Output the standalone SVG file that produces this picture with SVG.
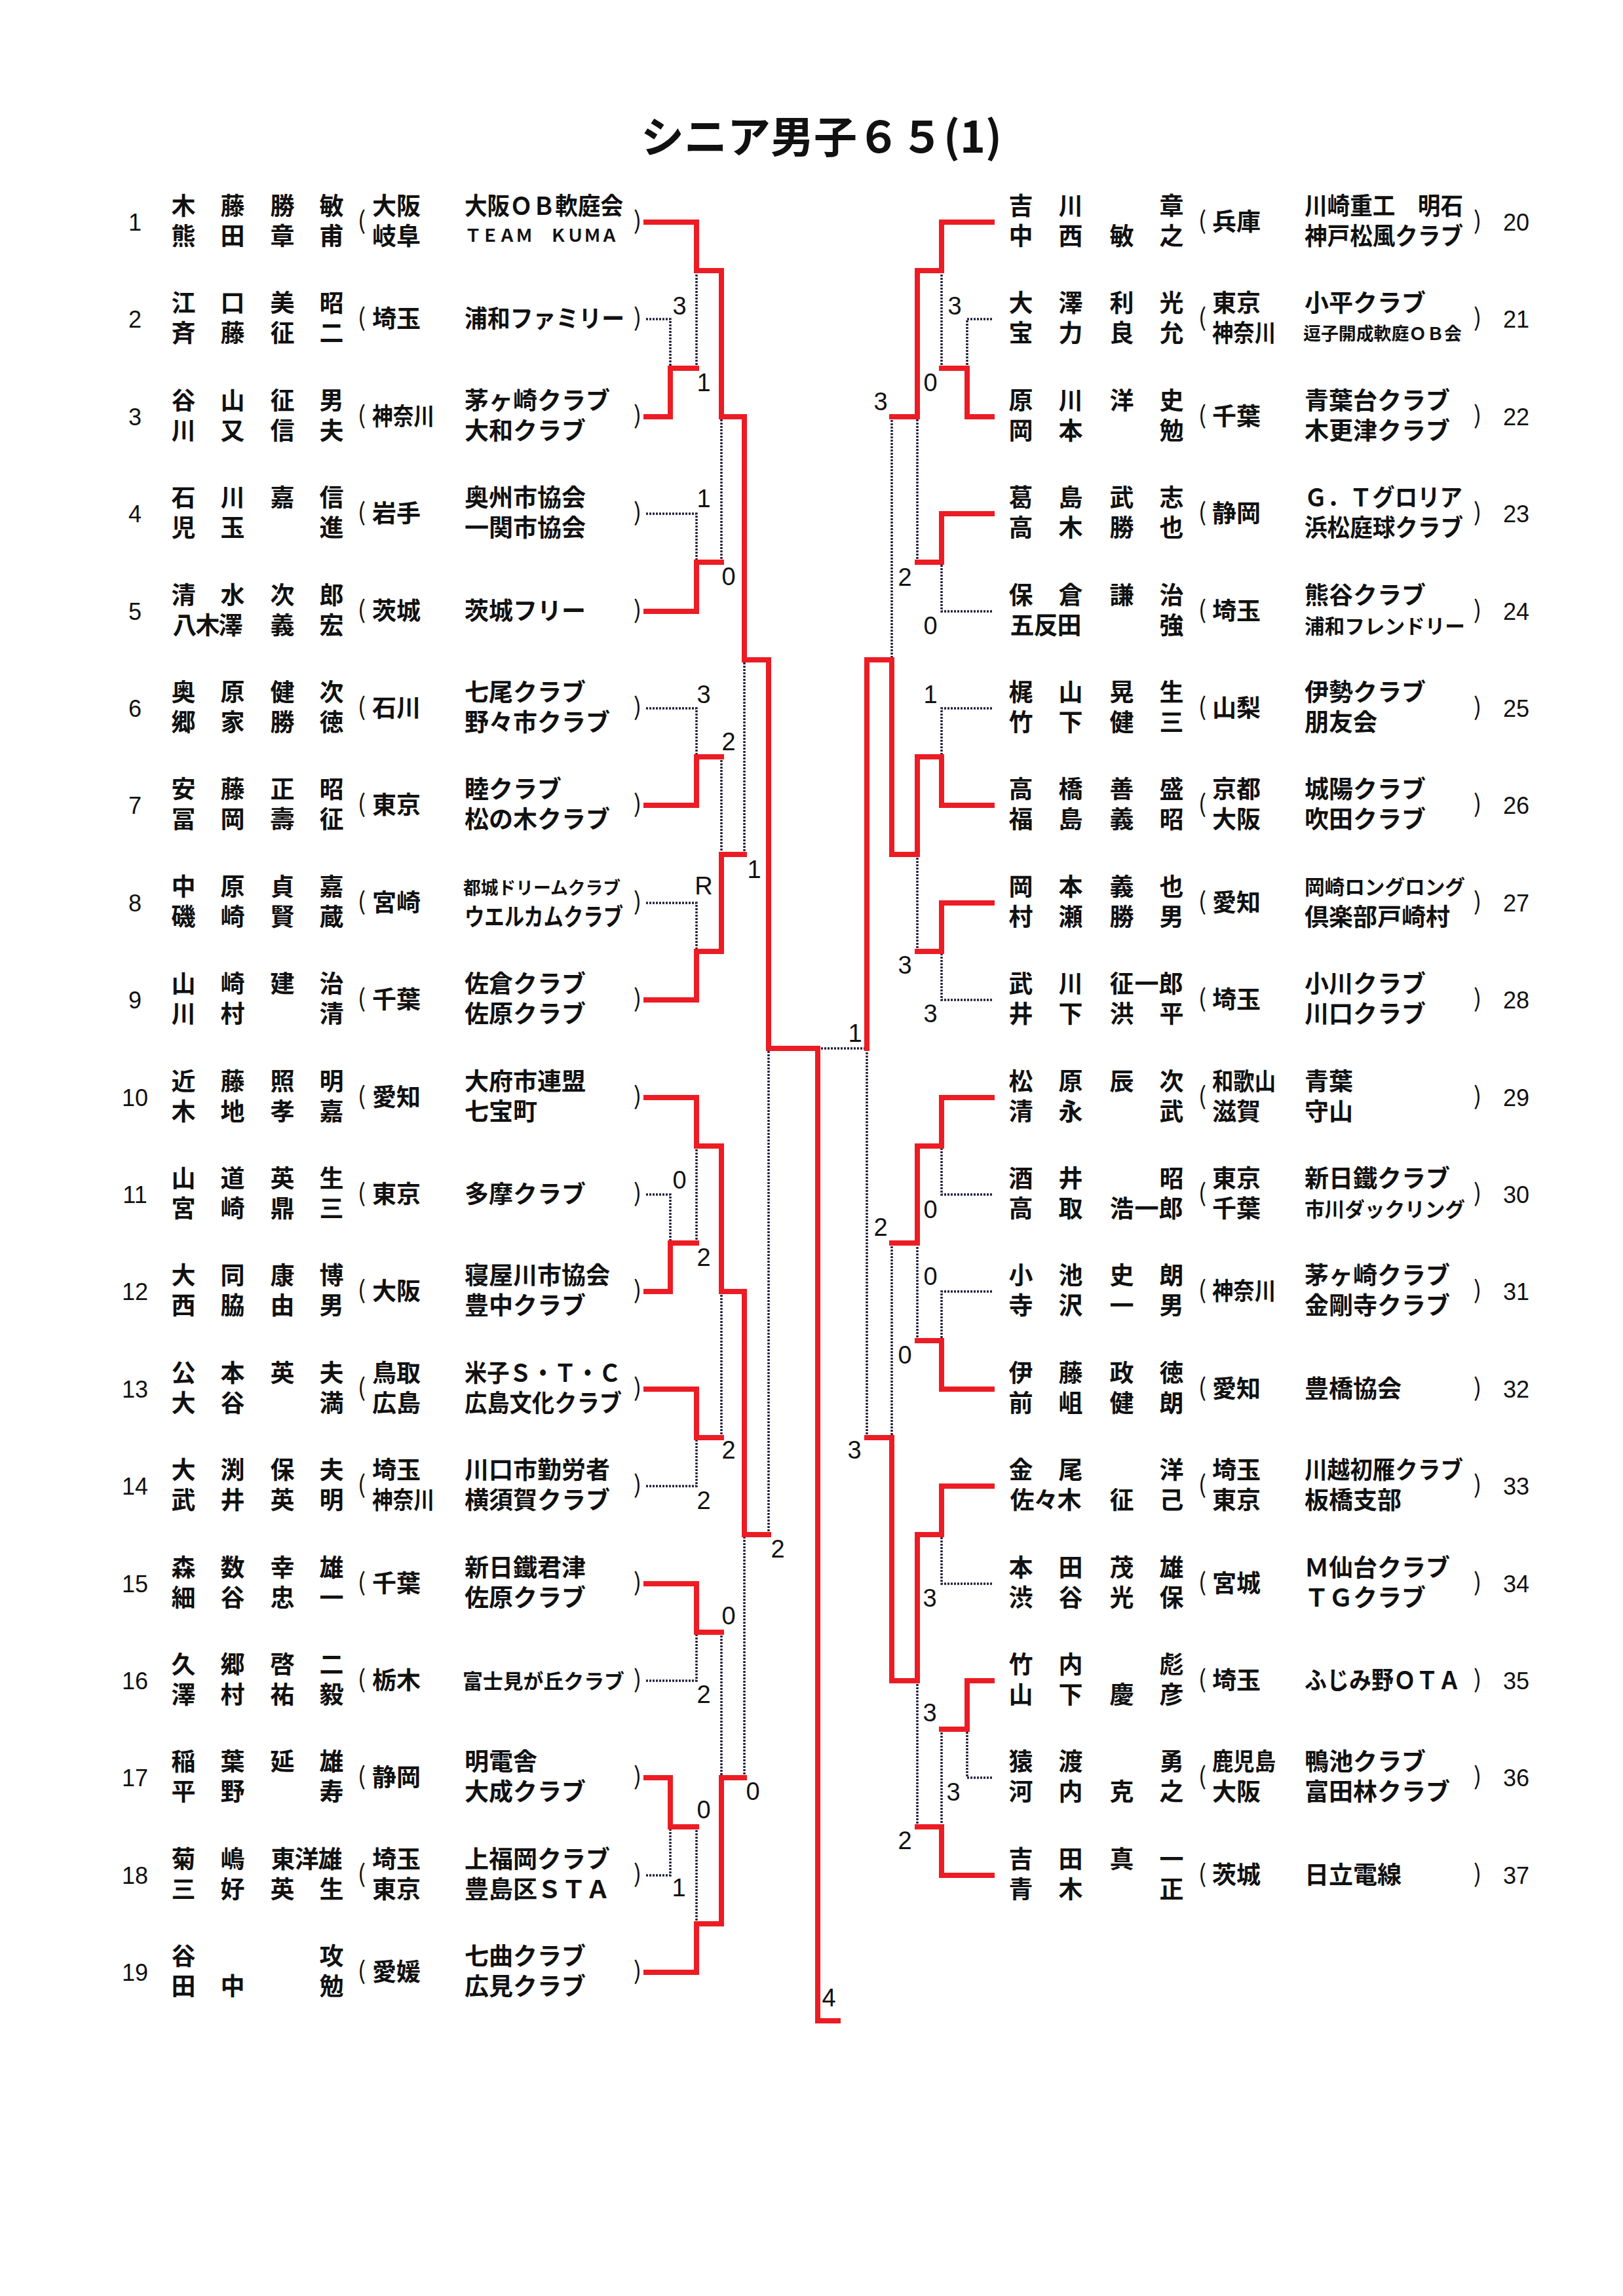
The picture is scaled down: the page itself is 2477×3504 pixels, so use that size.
<svg xmlns="http://www.w3.org/2000/svg" width="2477" height="3504" viewBox="0 0 2477 3504">
<style>
.t{font-family:"Noto Sans CJK JP","Noto Sans",sans-serif;fill:#111;font-size:37px;font-weight:700}
.nm{text-anchor:middle}
.pa{text-anchor:middle;font-weight:400}
.sm{font-size:26px}
.s27{font-size:27px}
.s31{font-size:31px}
.no{font-family:"Liberation Sans Narrow","Liberation Sans",sans-serif;font-size:36px;text-anchor:middle;fill:#111;font-weight:normal}
.sc{font-family:"Liberation Sans Narrow","Liberation Sans",sans-serif;font-size:38px;text-anchor:middle;fill:#111}
.red{fill:none;stroke:#ec1c24;stroke-width:8;stroke-linejoin:miter;stroke-linecap:square}
.dot{fill:none;stroke:#1e1e3a;stroke-width:3.5;stroke-dasharray:3 2}
</style>
<rect width="2477" height="3504" fill="#fff"/>
<text id="title" class="t" x="978" y="233" style="font-size:66px">シニア男子６５(1)</text>

<g id="connectors">
<g class="dot">
<path d="M986,487H1023V562"/>
<path d="M1063,562V413"/>
<path d="M986,784H1063V858"/>
<path d="M1101,858V636"/>
<path d="M986,1081H1063V1155"/>
<path d="M1101,1155V1304"/>
<path d="M986,1378H1063V1452"/>
<path d="M1136,1304V1007"/>
<path d="M986,1823H1023V1897"/>
<path d="M1063,1897V1749"/>
<path d="M1101,2194V1971"/>
<path d="M986,2268H1063V2194"/>
<path d="M986,2565H1063V2491"/>
<path d="M1101,2491V2713"/>
<path d="M986,2862H1023V2788"/>
<path d="M1063,2788V2936"/>
<path d="M1136,2713V2342"/>
<path d="M1173,2342V1600"/>
<path d="M1248,1600H1323"/>
<path d="M1514,487H1476V562"/>
<path d="M1437,562V413"/>
<path d="M1514,933H1437V858"/>
<path d="M1400,858V636"/>
<path d="M1361,636V1007"/>
<path d="M1514,1081H1437V1155"/>
<path d="M1514,1526H1437V1452"/>
<path d="M1400,1452V1304"/>
<path d="M1514,1823H1437V1749"/>
<path d="M1514,1971H1437V2046"/>
<path d="M1400,2046V1897"/>
<path d="M1361,1897V2194"/>
<path d="M1514,2417H1437V2342"/>
<path d="M1514,2713H1476V2639"/>
<path d="M1437,2639V2788"/>
<path d="M1400,2788V2565"/>
<path d="M1323,2194V1600"/>
</g>
<g class="red">
<path d="M986,339H1063V413H1101V636H1136V1007H1173V1600H1248V3084H1279"/>
<path d="M986,636H1023V562H1063"/>
<path d="M986,933H1063V858H1101"/>
<path d="M986,1229H1063V1155H1101"/>
<path d="M986,1526H1063V1452H1101V1304H1136"/>
<path d="M986,1675H1063V1749H1101V1971H1136V2342H1173"/>
<path d="M986,1971H1023V1897H1063"/>
<path d="M986,2120H1063V2194H1101"/>
<path d="M986,2417H1063V2491H1101"/>
<path d="M986,2713H1023V2788H1063"/>
<path d="M986,3010H1063V2936H1101V2713H1136"/>
<path d="M1514,339H1437V413H1400V636H1361"/>
<path d="M1514,636H1476V562H1437"/>
<path d="M1514,784H1437V858H1400"/>
<path d="M1514,1229H1437V1155H1400V1304H1361V1007H1323V1600"/>
<path d="M1514,1378H1437V1452H1400"/>
<path d="M1514,1675H1437V1749H1400V1897H1361"/>
<path d="M1514,2120H1437V2046H1400"/>
<path d="M1514,2268H1437V2342H1400V2565H1361V2194H1323"/>
<path d="M1514,2565H1476V2639H1437"/>
<path d="M1514,2862H1437V2788H1400"/>
</g>
</g>

<g id="scores" class="sc">
<text x="1037" y="480">3</text>
<text x="1074" y="597">1</text>
<text x="1074" y="774">1</text>
<text x="1112" y="893">0</text>
<text x="1074" y="1073">3</text>
<text x="1112" y="1145">2</text>
<text x="1151" y="1340">1</text>
<text x="1074" y="1365">R</text>
<text x="1037" y="1814">0</text>
<text x="1074" y="1932">2</text>
<text x="1112" y="2226">2</text>
<text x="1074" y="2303">2</text>
<text x="1187" y="2377">2</text>
<text x="1112" y="2479">0</text>
<text x="1074" y="2599">2</text>
<text x="1149" y="2747">0</text>
<text x="1074" y="2775">0</text>
<text x="1036" y="2894">1</text>
<text x="1265" y="3062">4</text>
<text x="1305" y="1590">1</text>
<text x="1457" y="480">3</text>
<text x="1420" y="597">0</text>
<text x="1344" y="626">3</text>
<text x="1381" y="894">2</text>
<text x="1420" y="968">0</text>
<text x="1420" y="1073">1</text>
<text x="1381" y="1486">3</text>
<text x="1420" y="1560">3</text>
<text x="1344" y="1886">2</text>
<text x="1420" y="1859">0</text>
<text x="1420" y="1961">0</text>
<text x="1381" y="2081">0</text>
<text x="1304" y="2226">3</text>
<text x="1419" y="2452">3</text>
<text x="1419" y="2627">3</text>
<text x="1455" y="2748">3</text>
<text x="1381" y="2822">2</text>
</g>

<g id="left" class="t">
<g id="e1" transform="translate(0,339)">
<text class="no" x="206" y="13">1</text>
<text class="nm"><tspan x="280 355 431 506" y="-11">木藤勝敏</tspan><tspan x="280 355 431 506" y="35">熊田章甫</tspan></text>
<text class="pa" x="552" y="11">(</text>
<text><tspan x="568" y="-11">大阪</tspan><tspan x="568" y="35">岐阜</tspan></text>
<text><tspan x="709" y="-11" textLength="242" lengthAdjust="spacingAndGlyphs">大阪ＯＢ軟庭会</tspan><tspan class="sm" x="709" y="30">ＴＥＡＭ　ＫＵＭＡ</tspan></text>
<text class="pa" x="973" y="11">)</text>
</g>
<g id="e2" transform="translate(0,487.4)">
<text class="no" x="206" y="13">2</text>
<text class="nm"><tspan x="280 355 431 506" y="-11">江口美昭</tspan><tspan x="280 355 431 506" y="35">斉藤征二</tspan></text>
<text class="pa" x="552" y="11">(</text>
<text x="568" y="13">埼玉</text>
<text x="709" y="13" textLength="244" lengthAdjust="spacingAndGlyphs">浦和ファミリー</text>
<text class="pa" x="973" y="11">)</text>
</g>
<g id="e3" transform="translate(0,635.8)">
<text class="no" x="206" y="13">3</text>
<text class="nm"><tspan x="280 355 431 506" y="-11">谷山征男</tspan><tspan x="280 355 431 506" y="35">川又信夫</tspan></text>
<text class="pa" x="552" y="11">(</text>
<text x="568" y="13" textLength="95" lengthAdjust="spacingAndGlyphs">神奈川</text>
<text><tspan x="709" y="-11">茅ヶ崎クラブ</tspan><tspan x="709" y="35">大和クラブ</tspan></text>
<text class="pa" x="973" y="11">)</text>
</g>
<g id="e4" transform="translate(0,784.2)">
<text class="no" x="206" y="13">4</text>
<text class="nm"><tspan x="280 355 431 506" y="-11">石川嘉信</tspan><tspan x="280 355 506" y="35">児玉進</tspan></text>
<text class="pa" x="552" y="11">(</text>
<text x="568" y="13">岩手</text>
<text><tspan x="709" y="-11">奥州市協会</tspan><tspan x="709" y="35">一関市協会</tspan></text>
<text class="pa" x="973" y="11">)</text>
</g>
<g id="e5" transform="translate(0,932.6)">
<text class="no" x="206" y="13">5</text>
<text class="nm"><tspan x="280 355 431 506" y="-11">清水次郎</tspan><tspan x="282 317 352 431 506" y="35">八木澤義宏</tspan></text>
<text class="pa" x="552" y="11">(</text>
<text x="568" y="13">茨城</text>
<text x="709" y="13">茨城フリー</text>
<text class="pa" x="973" y="11">)</text>
</g>
<g id="e6" transform="translate(0,1081)">
<text class="no" x="206" y="13">6</text>
<text class="nm"><tspan x="280 355 431 506" y="-11">奥原健次</tspan><tspan x="280 355 431 506" y="35">郷家勝徳</tspan></text>
<text class="pa" x="552" y="11">(</text>
<text x="568" y="13">石川</text>
<text><tspan x="709" y="-11">七尾クラブ</tspan><tspan x="709" y="35">野々市クラブ</tspan></text>
<text class="pa" x="973" y="11">)</text>
</g>
<g id="e7" transform="translate(0,1229.4)">
<text class="no" x="206" y="13">7</text>
<text class="nm"><tspan x="280 355 431 506" y="-11">安藤正昭</tspan><tspan x="280 355 431 506" y="35">冨岡壽征</tspan></text>
<text class="pa" x="552" y="11">(</text>
<text x="568" y="13">東京</text>
<text><tspan x="709" y="-11">睦クラブ</tspan><tspan x="709" y="35">松の木クラブ</tspan></text>
<text class="pa" x="973" y="11">)</text>
</g>
<g id="e8" transform="translate(0,1377.8)">
<text class="no" x="206" y="13">8</text>
<text class="nm"><tspan x="280 355 431 506" y="-11">中原貞嘉</tspan><tspan x="280 355 431 506" y="35">磯崎賢蔵</tspan></text>
<text class="pa" x="552" y="11">(</text>
<text x="568" y="13">宮崎</text>
<text><tspan class="s27" x="707" y="-13" textLength="240" lengthAdjust="spacingAndGlyphs">都城ドリームクラブ</tspan><tspan x="709" y="35" textLength="242" lengthAdjust="spacingAndGlyphs">ウエルカムクラブ</tspan></text>
<text class="pa" x="973" y="11">)</text>
</g>
<g id="e9" transform="translate(0,1526.2)">
<text class="no" x="206" y="13">9</text>
<text class="nm"><tspan x="280 355 431 506" y="-11">山崎建治</tspan><tspan x="280 355 506" y="35">川村清</tspan></text>
<text class="pa" x="552" y="11">(</text>
<text x="568" y="13">千葉</text>
<text><tspan x="709" y="-11">佐倉クラブ</tspan><tspan x="709" y="35">佐原クラブ</tspan></text>
<text class="pa" x="973" y="11">)</text>
</g>
<g id="e10" transform="translate(0,1674.6)">
<text class="no" x="206" y="13">10</text>
<text class="nm"><tspan x="280 355 431 506" y="-11">近藤照明</tspan><tspan x="280 355 431 506" y="35">木地孝嘉</tspan></text>
<text class="pa" x="552" y="11">(</text>
<text x="568" y="13">愛知</text>
<text><tspan x="709" y="-11">大府市連盟</tspan><tspan x="709" y="35">七宝町</tspan></text>
<text class="pa" x="973" y="11">)</text>
</g>
<g id="e11" transform="translate(0,1823)">
<text class="no" x="206" y="13">11</text>
<text class="nm"><tspan x="280 355 431 506" y="-11">山道英生</tspan><tspan x="280 355 431 506" y="35">宮崎鼎三</tspan></text>
<text class="pa" x="552" y="11">(</text>
<text x="568" y="13">東京</text>
<text x="709" y="13">多摩クラブ</text>
<text class="pa" x="973" y="11">)</text>
</g>
<g id="e12" transform="translate(0,1971.4)">
<text class="no" x="206" y="13">12</text>
<text class="nm"><tspan x="280 355 431 506" y="-11">大同康博</tspan><tspan x="280 355 431 506" y="35">西脇由男</tspan></text>
<text class="pa" x="552" y="11">(</text>
<text x="568" y="13">大阪</text>
<text><tspan x="709" y="-11">寝屋川市協会</tspan><tspan x="709" y="35">豊中クラブ</tspan></text>
<text class="pa" x="973" y="11">)</text>
</g>
<g id="e13" transform="translate(0,2119.8)">
<text class="no" x="206" y="13">13</text>
<text class="nm"><tspan x="280 355 431 506" y="-11">公本英夫</tspan><tspan x="280 355 506" y="35">大谷満</tspan></text>
<text class="pa" x="552" y="11">(</text>
<text><tspan x="568" y="-11">鳥取</tspan><tspan x="568" y="35">広島</tspan></text>
<text><tspan x="709" y="-11" textLength="239" lengthAdjust="spacingAndGlyphs">米子Ｓ・Ｔ・Ｃ</tspan><tspan x="709" y="35" textLength="240" lengthAdjust="spacingAndGlyphs">広島文化クラブ</tspan></text>
<text class="pa" x="973" y="11">)</text>
</g>
<g id="e14" transform="translate(0,2268.2)">
<text class="no" x="206" y="13">14</text>
<text class="nm"><tspan x="280 355 431 506" y="-11">大渕保夫</tspan><tspan x="280 355 431 506" y="35">武井英明</tspan></text>
<text class="pa" x="552" y="11">(</text>
<text><tspan x="568" y="-11">埼玉</tspan><tspan x="568" y="35" textLength="95" lengthAdjust="spacingAndGlyphs">神奈川</tspan></text>
<text><tspan x="709" y="-11">川口市勤労者</tspan><tspan x="709" y="35">横須賀クラブ</tspan></text>
<text class="pa" x="973" y="11">)</text>
</g>
<g id="e15" transform="translate(0,2416.6)">
<text class="no" x="206" y="13">15</text>
<text class="nm"><tspan x="280 355 431 506" y="-11">森数幸雄</tspan><tspan x="280 355 431 506" y="35">細谷忠一</tspan></text>
<text class="pa" x="552" y="11">(</text>
<text x="568" y="13">千葉</text>
<text><tspan x="709" y="-11">新日鐵君津</tspan><tspan x="709" y="35">佐原クラブ</tspan></text>
<text class="pa" x="973" y="11">)</text>
</g>
<g id="e16" transform="translate(0,2565)">
<text class="no" x="206" y="13">16</text>
<text class="nm"><tspan x="280 355 431 506" y="-11">久郷啓二</tspan><tspan x="280 355 431 506" y="35">澤村祐毅</tspan></text>
<text class="pa" x="552" y="11">(</text>
<text x="568" y="13">栃木</text>
<text class="s31" x="706" y="12" textLength="247" lengthAdjust="spacingAndGlyphs">富士見が丘クラブ</text>
<text class="pa" x="973" y="11">)</text>
</g>
<g id="e17" transform="translate(0,2713.4)">
<text class="no" x="206" y="13">17</text>
<text class="nm"><tspan x="280 355 431 506" y="-11">稲葉延雄</tspan><tspan x="280 355 506" y="35">平野寿</tspan></text>
<text class="pa" x="552" y="11">(</text>
<text x="568" y="13">静岡</text>
<text><tspan x="709" y="-11">明電舎</tspan><tspan x="709" y="35">大成クラブ</tspan></text>
<text class="pa" x="973" y="11">)</text>
</g>
<g id="e18" transform="translate(0,2861.8)">
<text class="no" x="206" y="13">18</text>
<text class="nm"><tspan x="280 355 432 468 504" y="-11">菊嶋東洋雄</tspan><tspan x="280 355 431 506" y="35">三好英生</tspan></text>
<text class="pa" x="552" y="11">(</text>
<text><tspan x="568" y="-11">埼玉</tspan><tspan x="568" y="35">東京</tspan></text>
<text><tspan x="709" y="-11">上福岡クラブ</tspan><tspan x="709" y="35">豊島区ＳＴＡ</tspan></text>
<text class="pa" x="973" y="11">)</text>
</g>
<g id="e19" transform="translate(0,3010.2)">
<text class="no" x="206" y="13">19</text>
<text class="nm"><tspan x="280 506" y="-11">谷攻</tspan><tspan x="280 355 506" y="35">田中勉</tspan></text>
<text class="pa" x="552" y="11">(</text>
<text x="568" y="13">愛媛</text>
<text><tspan x="709" y="-11">七曲クラブ</tspan><tspan x="709" y="35">広見クラブ</tspan></text>
<text class="pa" x="973" y="11">)</text>
</g>
</g>

<g id="right" class="t">
<g id="e20" transform="translate(0,339)">
<text class="nm"><tspan x="1558 1634 1788" y="-11">吉川章</tspan><tspan x="1558 1634 1712 1788" y="35">中西敏之</tspan></text>
<text class="pa" x="1835" y="11">(</text>
<text x="1850" y="13">兵庫</text>
<text><tspan x="1991" y="-11" textLength="242" lengthAdjust="spacingAndGlyphs">川崎重工　明石</tspan><tspan x="1991" y="35" textLength="242" lengthAdjust="spacingAndGlyphs">神戸松風クラブ</tspan></text>
<text class="pa" x="2255" y="11">)</text>
<text class="no" x="2314" y="13">20</text>
</g>
<g id="e21" transform="translate(0,487.4)">
<text class="nm"><tspan x="1558 1634 1712 1788" y="-11">大澤利光</tspan><tspan x="1558 1634 1712 1788" y="35">宝力良允</tspan></text>
<text class="pa" x="1835" y="11">(</text>
<text><tspan x="1850" y="-11">東京</tspan><tspan x="1850" y="35" textLength="97" lengthAdjust="spacingAndGlyphs">神奈川</tspan></text>
<text><tspan x="1991" y="-11">小平クラブ</tspan><tspan class="s27" x="1989" y="32" textLength="242" lengthAdjust="spacingAndGlyphs">逗子開成軟庭ＯＢ会</tspan></text>
<text class="pa" x="2255" y="11">)</text>
<text class="no" x="2314" y="13">21</text>
</g>
<g id="e22" transform="translate(0,635.8)">
<text class="nm"><tspan x="1558 1634 1712 1788" y="-11">原川洋史</tspan><tspan x="1558 1634 1788" y="35">岡本勉</tspan></text>
<text class="pa" x="1835" y="11">(</text>
<text x="1850" y="13">千葉</text>
<text><tspan x="1991" y="-11">青葉台クラブ</tspan><tspan x="1991" y="35">木更津クラブ</tspan></text>
<text class="pa" x="2255" y="11">)</text>
<text class="no" x="2314" y="13">22</text>
</g>
<g id="e23" transform="translate(0,784.2)">
<text class="nm"><tspan x="1558 1634 1712 1788" y="-11">葛島武志</tspan><tspan x="1558 1634 1712 1788" y="35">高木勝也</tspan></text>
<text class="pa" x="1835" y="11">(</text>
<text x="1850" y="13">静岡</text>
<text><tspan x="1991" y="-11" textLength="241" lengthAdjust="spacingAndGlyphs">Ｇ．Ｔグロリア</tspan><tspan x="1991" y="35" textLength="242" lengthAdjust="spacingAndGlyphs">浜松庭球クラブ</tspan></text>
<text class="pa" x="2255" y="11">)</text>
<text class="no" x="2314" y="13">23</text>
</g>
<g id="e24" transform="translate(0,932.6)">
<text class="nm"><tspan x="1558 1634 1712 1788" y="-11">保倉謙治</tspan><tspan x="1560 1596 1632 1788" y="35">五反田強</tspan></text>
<text class="pa" x="1835" y="11">(</text>
<text x="1850" y="13">埼玉</text>
<text><tspan x="1991" y="-11">熊谷クラブ</tspan><tspan class="s31" x="1991" y="34" textLength="245" lengthAdjust="spacingAndGlyphs">浦和フレンドリー</tspan></text>
<text class="pa" x="2255" y="11">)</text>
<text class="no" x="2314" y="13">24</text>
</g>
<g id="e25" transform="translate(0,1081)">
<text class="nm"><tspan x="1558 1634 1712 1788" y="-11">梶山晃生</tspan><tspan x="1558 1634 1712 1788" y="35">竹下健三</tspan></text>
<text class="pa" x="1835" y="11">(</text>
<text x="1850" y="13">山梨</text>
<text><tspan x="1991" y="-11">伊勢クラブ</tspan><tspan x="1991" y="35">朋友会</tspan></text>
<text class="pa" x="2255" y="11">)</text>
<text class="no" x="2314" y="13">25</text>
</g>
<g id="e26" transform="translate(0,1229.4)">
<text class="nm"><tspan x="1558 1634 1712 1788" y="-11">高橋善盛</tspan><tspan x="1558 1634 1712 1788" y="35">福島義昭</tspan></text>
<text class="pa" x="1835" y="11">(</text>
<text><tspan x="1850" y="-11">京都</tspan><tspan x="1850" y="35">大阪</tspan></text>
<text><tspan x="1991" y="-11">城陽クラブ</tspan><tspan x="1991" y="35">吹田クラブ</tspan></text>
<text class="pa" x="2255" y="11">)</text>
<text class="no" x="2314" y="13">26</text>
</g>
<g id="e27" transform="translate(0,1377.8)">
<text class="nm"><tspan x="1558 1634 1712 1788" y="-11">岡本義也</tspan><tspan x="1558 1634 1712 1788" y="35">村瀬勝男</tspan></text>
<text class="pa" x="1835" y="11">(</text>
<text x="1850" y="13">愛知</text>
<text><tspan class="s31" x="1991" y="-13" textLength="245" lengthAdjust="spacingAndGlyphs">岡崎ロングロング</tspan><tspan x="1991" y="35">倶楽部戸崎村</tspan></text>
<text class="pa" x="2255" y="11">)</text>
<text class="no" x="2314" y="13">27</text>
</g>
<g id="e28" transform="translate(0,1526.2)">
<text class="nm"><tspan x="1558 1634 1712 1750 1787" y="-11">武川征一郎</tspan><tspan x="1558 1634 1712 1788" y="35">井下洪平</tspan></text>
<text class="pa" x="1835" y="11">(</text>
<text x="1850" y="13">埼玉</text>
<text><tspan x="1991" y="-11">小川クラブ</tspan><tspan x="1991" y="35">川口クラブ</tspan></text>
<text class="pa" x="2255" y="11">)</text>
<text class="no" x="2314" y="13">28</text>
</g>
<g id="e29" transform="translate(0,1674.6)">
<text class="nm"><tspan x="1558 1634 1712 1788" y="-11">松原辰次</tspan><tspan x="1558 1634 1788" y="35">清永武</tspan></text>
<text class="pa" x="1835" y="11">(</text>
<text><tspan x="1850" y="-11" textLength="97" lengthAdjust="spacingAndGlyphs">和歌山</tspan><tspan x="1850" y="35">滋賀</tspan></text>
<text><tspan x="1991" y="-11">青葉</tspan><tspan x="1991" y="35">守山</tspan></text>
<text class="pa" x="2255" y="11">)</text>
<text class="no" x="2314" y="13">29</text>
</g>
<g id="e30" transform="translate(0,1823)">
<text class="nm"><tspan x="1558 1634 1788" y="-11">酒井昭</tspan><tspan x="1558 1634 1712 1750 1787" y="35">高取浩一郎</tspan></text>
<text class="pa" x="1835" y="11">(</text>
<text><tspan x="1850" y="-11">東京</tspan><tspan x="1850" y="35">千葉</tspan></text>
<text><tspan x="1991" y="-11">新日鐵クラブ</tspan><tspan class="s31" x="1991" y="34" textLength="245" lengthAdjust="spacingAndGlyphs">市川ダックリング</tspan></text>
<text class="pa" x="2255" y="11">)</text>
<text class="no" x="2314" y="13">30</text>
</g>
<g id="e31" transform="translate(0,1971.4)">
<text class="nm"><tspan x="1558 1634 1712 1788" y="-11">小池史朗</tspan><tspan x="1558 1634 1712 1788" y="35">寺沢一男</tspan></text>
<text class="pa" x="1835" y="11">(</text>
<text x="1850" y="13" textLength="97" lengthAdjust="spacingAndGlyphs">神奈川</text>
<text><tspan x="1991" y="-11">茅ヶ崎クラブ</tspan><tspan x="1991" y="35">金剛寺クラブ</tspan></text>
<text class="pa" x="2255" y="11">)</text>
<text class="no" x="2314" y="13">31</text>
</g>
<g id="e32" transform="translate(0,2119.8)">
<text class="nm"><tspan x="1558 1634 1712 1788" y="-11">伊藤政徳</tspan><tspan x="1558 1634 1712 1788" y="35">前岨健朗</tspan></text>
<text class="pa" x="1835" y="11">(</text>
<text x="1850" y="13">愛知</text>
<text x="1991" y="13">豊橋協会</text>
<text class="pa" x="2255" y="11">)</text>
<text class="no" x="2314" y="13">32</text>
</g>
<g id="e33" transform="translate(0,2268.2)">
<text class="nm"><tspan x="1558 1634 1788" y="-11">金尾洋</tspan><tspan x="1560 1596 1632 1712 1788" y="35">佐々木征己</tspan></text>
<text class="pa" x="1835" y="11">(</text>
<text><tspan x="1850" y="-11">埼玉</tspan><tspan x="1850" y="35">東京</tspan></text>
<text><tspan x="1991" y="-11" textLength="242" lengthAdjust="spacingAndGlyphs">川越初雁クラブ</tspan><tspan x="1991" y="35">板橋支部</tspan></text>
<text class="pa" x="2255" y="11">)</text>
<text class="no" x="2314" y="13">33</text>
</g>
<g id="e34" transform="translate(0,2416.6)">
<text class="nm"><tspan x="1558 1634 1712 1788" y="-11">本田茂雄</tspan><tspan x="1558 1634 1712 1788" y="35">渋谷光保</tspan></text>
<text class="pa" x="1835" y="11">(</text>
<text x="1850" y="13">宮城</text>
<text><tspan x="1991" y="-11">Ｍ仙台クラブ</tspan><tspan x="1991" y="35">ＴＧクラブ</tspan></text>
<text class="pa" x="2255" y="11">)</text>
<text class="no" x="2314" y="13">34</text>
</g>
<g id="e35" transform="translate(0,2565)">
<text class="nm"><tspan x="1558 1634 1788" y="-11">竹内彪</tspan><tspan x="1558 1634 1712 1788" y="35">山下慶彦</tspan></text>
<text class="pa" x="1835" y="11">(</text>
<text x="1850" y="13">埼玉</text>
<text x="1991" y="13" textLength="238" lengthAdjust="spacingAndGlyphs">ふじみ野ＯＴＡ</text>
<text class="pa" x="2255" y="11">)</text>
<text class="no" x="2314" y="13">35</text>
</g>
<g id="e36" transform="translate(0,2713.4)">
<text class="nm"><tspan x="1558 1634 1788" y="-11">猿渡勇</tspan><tspan x="1558 1634 1712 1788" y="35">河内克之</tspan></text>
<text class="pa" x="1835" y="11">(</text>
<text><tspan x="1850" y="-11" textLength="97" lengthAdjust="spacingAndGlyphs">鹿児島</tspan><tspan x="1850" y="35">大阪</tspan></text>
<text><tspan x="1991" y="-11">鴨池クラブ</tspan><tspan x="1991" y="35">富田林クラブ</tspan></text>
<text class="pa" x="2255" y="11">)</text>
<text class="no" x="2314" y="13">36</text>
</g>
<g id="e37" transform="translate(0,2861.8)">
<text class="nm"><tspan x="1558 1634 1712 1788" y="-11">吉田真一</tspan><tspan x="1558 1634 1788" y="35">青木正</tspan></text>
<text class="pa" x="1835" y="11">(</text>
<text x="1850" y="13">茨城</text>
<text x="1991" y="13">日立電線</text>
<text class="pa" x="2255" y="11">)</text>
<text class="no" x="2314" y="13">37</text>
</g>
</g>
</svg>
